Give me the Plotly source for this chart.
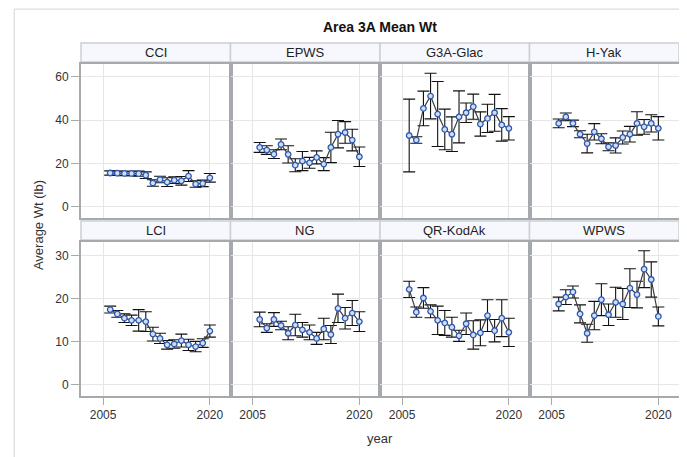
import plotly.graph_objects as go

# survey years shared by every panel
YEARS = list(range(2006, 2021))

AREAS = ["CCI", "EPWS", "G3A-Glac", "H-Yak", "LCI", "NG", "QR-KodAk", "WPWS"]

# mean weight (lb) and error-bar half widths
CCI_MEAN = [15.6, 15.5, 15.4, 15.4, 15.3, 14.6, 11.0, 12.6, 11.4, 12.3, 12.0, 14.2, 10.5, 10.8, 13.4]
CCI_ERR = [1.0, 1.0, 1.0, 1.0, 1.2, 1.5, 1.5, 1.5, 2.0, 1.5, 2.0, 2.5, 1.5, 1.5, 2.0]

EPWS_MEAN = [27.4, 26.2, 24.3, 28.8, 24.2, 19.2, 21.1, 20.3, 22.8, 19.7, 27.4, 33.5, 34.3, 30.8, 23.1]
EPWS_ERR = [2.3, 2.0, 2.0, 2.5, 4.0, 3.0, 4.4, 2.5, 3.0, 3.0, 7.0, 6.3, 5.0, 5.0, 4.5]

G3A_MEAN = [32.9, 30.8, 45.4, 51.1, 42.8, 35.7, 33.5, 41.5, 43.4, 46.2, 38.2, 40.8, 43.4, 37.8, 36.2]
G3A_ERR = [16.8, 1.5, 8.0, 10.5, 15.0, 9.4, 8.0, 12.0, 4.5, 5.8, 5.6, 6.5, 8.5, 7.5, 5.4]

HYAK_MEAN = [38.5, 41.5, 38.5, 33.5, 29.2, 34.6, 31.4, 27.7, 28.3, 32.0, 33.5, 38.5, 36.9, 38.5, 36.2]
HYAK_ERR = [2.0, 1.8, 1.5, 1.6, 4.3, 3.8, 2.3, 1.8, 3.5, 3.0, 3.6, 5.4, 3.4, 4.0, 5.4]

LCI_MEAN = [17.5, 16.5, 15.5, 15.0, 15.0, 14.7, 11.8, 10.8, 9.3, 9.5, 10.3, 9.3, 8.9, 9.7, 12.5]
LCI_ERR = [0.8, 0.8, 1.0, 1.2, 2.5, 2.3, 1.6, 1.2, 1.0, 1.0, 1.5, 1.3, 1.2, 1.0, 1.4]

NG_MEAN = [15.2, 13.2, 15.2, 13.8, 12.0, 13.9, 12.8, 12.2, 10.8, 13.0, 11.7, 17.8, 15.5, 16.7, 14.7]
NG_ERR = [1.7, 1.0, 1.6, 1.0, 1.5, 2.5, 1.7, 1.7, 1.4, 2.5, 2.1, 3.3, 2.5, 2.9, 2.3]

QRK_MEAN = [22.2, 16.9, 20.2, 17.1, 15.0, 14.4, 13.4, 11.4, 14.2, 11.6, 12.1, 16.1, 12.6, 15.5, 12.2]
QRK_ERR = [1.9, 1.2, 2.4, 1.5, 3.3, 2.9, 2.3, 1.3, 2.5, 3.3, 3.0, 3.7, 2.6, 4.3, 3.3]

WPWS_MEAN = [18.8, 20.4, 21.6, 16.5, 12.0, 16.1, 19.8, 16.3, 19.2, 18.8, 22.5, 21.0, 26.9, 24.5, 15.9]
WPWS_ERR = [1.6, 1.7, 1.4, 2.1, 2.1, 3.3, 3.7, 2.5, 3.5, 3.6, 4.5, 3.1, 4.3, 4.1, 2.2]

SERIES = [
    (CCI_MEAN, CCI_ERR), (EPWS_MEAN, EPWS_ERR), (G3A_MEAN, G3A_ERR), (HYAK_MEAN, HYAK_ERR),
    (LCI_MEAN, LCI_ERR), (NG_MEAN, NG_ERR), (QRK_MEAN, QRK_ERR), (WPWS_MEAN, WPWS_ERR),
]

FONT = "Liberation Sans Narrow, Arial Narrow, Liberation Sans, Arial, sans-serif"
BORDER = "#a6aaaf"
GRID = "#e6e6e6"

# layout in paper fractions (page body has an 8px margin, so the figure is shifted)
ROW_DOMAINS = [[0.504, 0.9405], [0.0, 0.436]]
HEADER_DOMAINS = [[0.946, 1.0], [0.442, 0.496]]
Y_RANGES = [[-5.2, 65.9], [-2.6, 33.2]]
Y_TICKS = [[0, 20, 40, 60], [0, 10, 20, 30]]

fig = go.Figure()
layout = {}
shapes = []
annotations = []

for i, (area, (mean, err)) in enumerate(zip(AREAS, SERIES)):
    r, c = divmod(i, 4)
    n = "" if i == 0 else str(i + 1)
    fig.add_trace(go.Scatter(
        x=YEARS, y=mean,
        mode="lines+markers",
        line=dict(color="#3c3c3c", width=1.2),
        marker=dict(symbol="circle", size=5.5, color="#d2dcf2",
                    line=dict(color="#2b58b0", width=1.3)),
        error_y=dict(type="data", array=err, visible=True,
                     color="#111111", thickness=1.1, width=6),
        xaxis="x" + n, yaxis="y" + n,
        showlegend=False, name=area,
    ))
    layout["xaxis" + n] = dict(
        domain=[c * 0.25, (c + 1) * 0.25], anchor="y" + n,
        range=[2001.9, 2022.9], tickvals=[2005, 2020],
        showticklabels=(r == 1), ticks="outside" if r == 1 else "",
        ticklen=7, tickcolor=BORDER,
        showgrid=True, gridcolor=GRID, zeroline=False,
        showline=True, mirror=True, linecolor=BORDER, linewidth=2,
        tickfont=dict(family=FONT, size=12, color="#333333"),
    )
    layout["yaxis" + n] = dict(
        domain=ROW_DOMAINS[r], anchor="x" + n,
        range=Y_RANGES[r], tickvals=Y_TICKS[r],
        showticklabels=(c == 0), ticks="outside" if c == 0 else "",
        ticklen=8, tickcolor=BORDER,
        showgrid=True, gridcolor=GRID, zeroline=False,
        showline=True, mirror=True, linecolor=BORDER, linewidth=2,
        tickfont=dict(family=FONT, size=12, color="#333333"),
    )
    h0, h1 = HEADER_DOMAINS[r]
    shapes.append(dict(type="rect", xref="paper", yref="paper",
                       x0=c * 0.25, x1=(c + 1) * 0.25, y0=h0, y1=h1,
                       fillcolor="#f7f8fe", line=dict(color="#cbcfd4", width=1.5), layer="below"))
    annotations.append(dict(text=area, xref="paper", yref="paper",
                            x=(c + 0.5) * 0.25, y=(h0 + h1) / 2,
                            xanchor="center", yanchor="middle", showarrow=False,
                            font=dict(family=FONT, size=13, color="#222222")))

# outer frame of the graph
shapes.append(dict(type="rect", xref="paper", yref="paper",
                   x0=-0.1117, x1=1.03, y0=-0.2, y1=1.096,
                   line=dict(color="#d4d4d4", width=1), layer="below"))

annotations += [
    dict(text="<b>Area 3A Mean Wt</b>", xref="paper", yref="paper", x=0.5, y=1.045,
         xanchor="center", yanchor="middle",
         showarrow=False, font=dict(family=FONT, size=14, color="#111111")),
    dict(text="year", xref="paper", yref="paper", x=0.5, y=-0.119,
         xanchor="center", yanchor="middle",
         showarrow=False, font=dict(family=FONT, size=13, color="#333333")),
    dict(text="Average Wt (lb)", xref="paper", yref="paper", x=-0.072, y=0.484,
         xanchor="center", yanchor="middle",
         textangle=-90, showarrow=False, font=dict(family=FONT, size=13, color="#333333")),
]

fig.update_layout(
    **layout,
    shapes=shapes,
    annotations=annotations,
    width=679, height=449,
    margin=dict(l=73, r=6, t=35, b=61),
    paper_bgcolor="white", plot_bgcolor="white",
    font=dict(family=FONT),
)

fig.write_html("out.html")
